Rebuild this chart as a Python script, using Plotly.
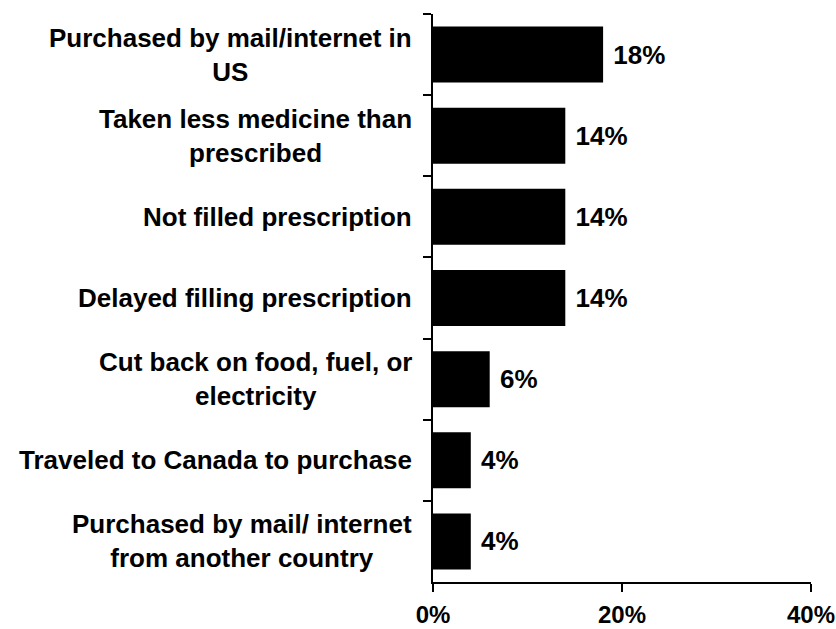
import plotly.graph_objects as go

# Survey responses, listed top to bottom
categories = [
    "Purchased by mail/internet in<br>US",
    "Taken less medicine than<br>prescribed",
    "Not filled prescription",
    "Delayed filling prescription",
    "Cut back on food, fuel, or<br>electricity",
    "Traveled to Canada to purchase",
    "Purchased by mail/ internet<br>from another country",
]
values = [18, 14, 14, 14, 6, 4, 4]
x_ticks = [0, 20, 40]
x_tick_labels = ["0%", "20%", "40%"]

FONT = "Liberation Sans, Arial, sans-serif"
font_bold = dict(family=FONT, size=26, color="black", weight=700)

fig = go.Figure(
    go.Bar(
        x=values,
        y=categories,
        orientation="h",
        marker=dict(color="black", line=dict(width=0)),
        text=[f" {v}%" for v in values],
        textposition="outside",
        textfont=font_bold,
        cliponaxis=False,
    )
)

# Category labels drawn as centered multi-line text to the left of the axis
for cat in categories:
    fig.add_annotation(
        x=0, xref="paper", xanchor="right", xshift=-19,
        y=cat, yref="y", yanchor="middle",
        text=cat, align="center", showarrow=False,
        font=font_bold,
    )

fig.update_layout(
    template="none",
    width=836, height=629,
    margin=dict(l=433, r=25, t=14, b=47, autoexpand=False),
    paper_bgcolor="white", plot_bgcolor="white",
    showlegend=False,
    bargap=0.31,
    font=font_bold,
)
fig.update_xaxes(
    range=[0, 40],
    tickvals=x_ticks, ticktext=x_tick_labels,
    showline=True, linecolor="black", linewidth=2,
    ticks="outside", ticklen=8, tickwidth=2, tickcolor="black",
    showgrid=False, zeroline=False,
    tickfont=dict(family=FONT, size=24, color="black", weight=700),
    ticklabelstandoff=2,
    ticklabeloverflow="allow",
    automargin=False,
)
fig.update_yaxes(
    autorange="reversed",
    showline=True, linecolor="black", linewidth=2,
    ticks="outside", tickson="boundaries", ticklen=8, tickwidth=2,
    tickcolor="black",
    showticklabels=False, showgrid=False, zeroline=False,
    automargin=False,
)

fig.write_html("out.html")
